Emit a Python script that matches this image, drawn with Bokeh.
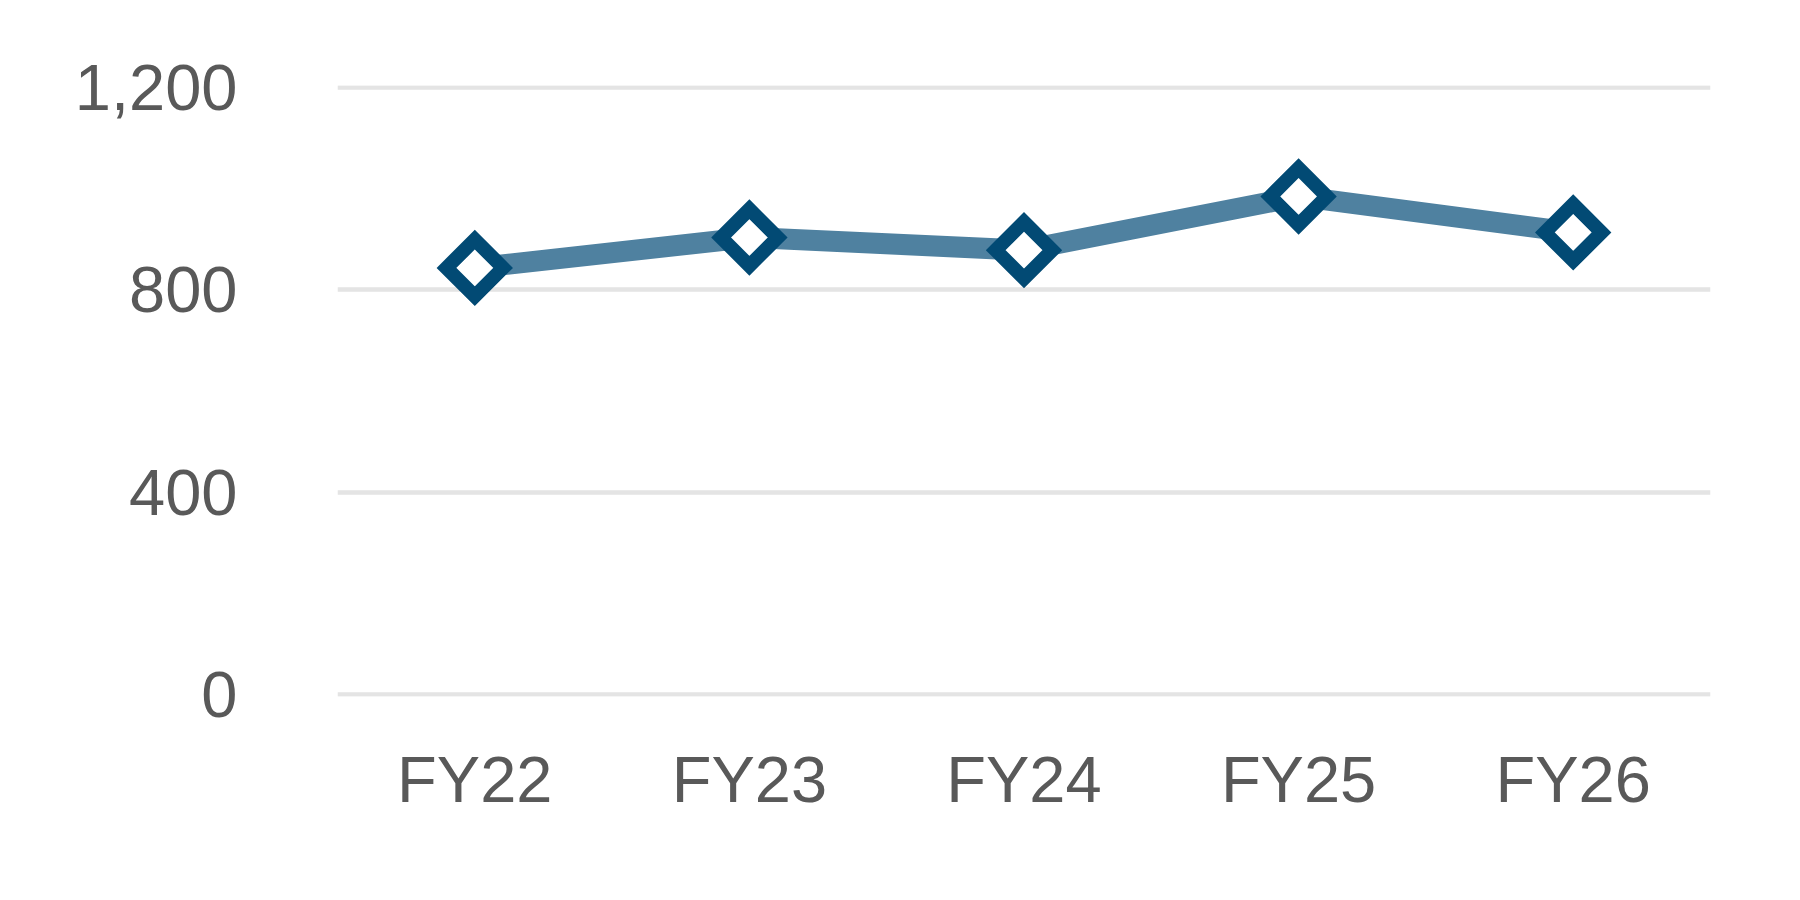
'''
wykres liniowy FY22-FY26
'''
import math
from bokeh.plotting import figure
from bokeh.models import Range1d, FixedTicker, NumeralTickFormatter
from bokeh.embed import file_html
from bokeh.resources import INLINE

lata = ["FY22", "FY23", "FY24", "FY25", "FY26"]
wartosci = [843, 903, 878, 984, 913]
podzialka_y = [0, 400, 800, 1200]

kolor_linii = "#4F81A0"
kolor_znacznika = "#024A74"
kolor_tekstu = "#595959"


def wykres():
    # zakres troche szerszy, zeby linie siatki na 0 i 1200 byly rysowane
    p = figure(x_range=lata, y_range=Range1d(-3, 1203),
               width=1784, height=884, output_backend="svg",
               toolbar_location=None,
               min_border_left=337, min_border_right=74,
               min_border_top=85, min_border_bottom=188)
    p.outline_line_color = None
    p.background_fill_color = "white"
    p.border_fill_color = "white"

    p.line(lata, wartosci, line_color=kolor_linii, line_width=21)
    p.scatter(lata, wartosci, marker="square", size=40, angle=math.pi / 4,
              fill_color="white", line_color=kolor_znacznika, line_width=14,
              line_join="miter")

    p.xgrid.grid_line_color = None
    p.ygrid.grid_line_color = "#E4E4E4"
    p.ygrid.grid_line_width = 4.5
    p.yaxis.ticker = FixedTicker(ticks=podzialka_y)
    p.yaxis.formatter = NumeralTickFormatter(format="0,0")

    for os_ in (p.xaxis, p.yaxis):
        os_.axis_line_color = None
        os_.major_tick_line_color = None
        os_.minor_tick_line_color = None
        os_.major_tick_out = 0
        os_.major_tick_in = 0
        os_.major_label_text_font = "Liberation Sans"
        os_.major_label_text_font_size = "65px"
        os_.major_label_text_color = kolor_tekstu
    p.yaxis.major_label_standoff = 100
    p.xaxis.major_label_standoff = 46
    return p


if __name__ == "__main__":
    p = wykres()
    open("out.html", "w").write(file_html(p, INLINE))
